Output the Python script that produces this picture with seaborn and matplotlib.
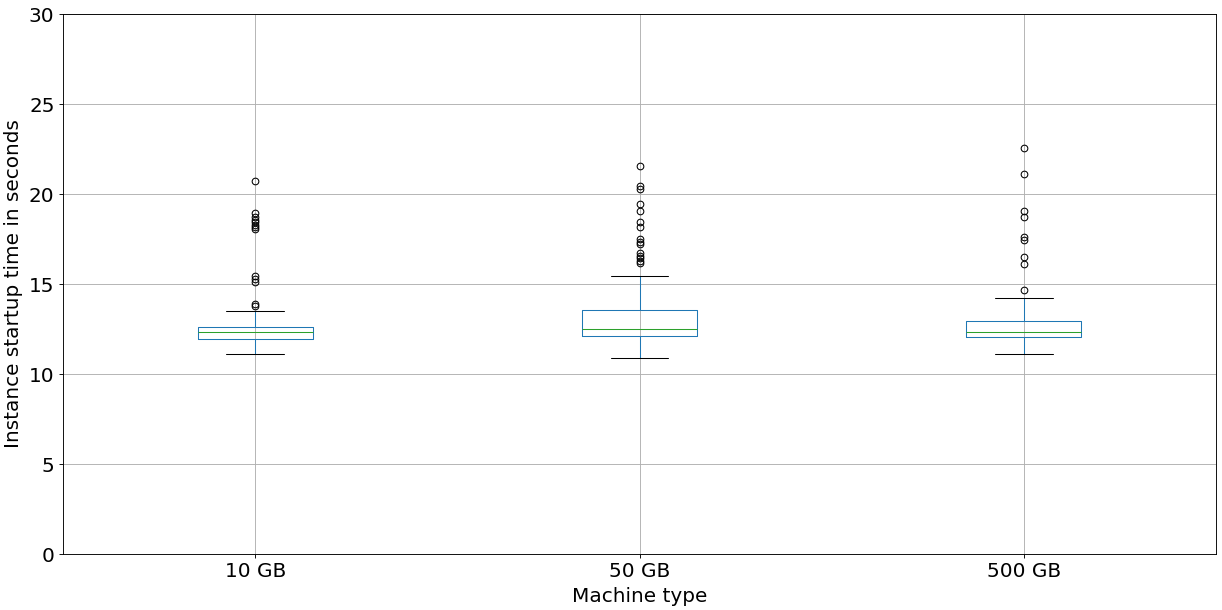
import matplotlib
matplotlib.use("Agg")
import matplotlib.pyplot as plt
import seaborn as sns
import pandas as pd

categories = ["10 GB", "50 GB", "500 GB"]

values_10gb = [
    11.11, 11.35, 11.48, 11.56, 11.62, 11.68, 11.72, 11.76, 11.80, 11.83, 11.86, 11.88, 11.90, 11.92,
    11.93,
    11.97, 12.00, 12.03, 12.06, 12.09, 12.12, 12.15, 12.18, 12.21, 12.24, 12.27, 12.29, 12.31,
    12.32,
    12.34, 12.36, 12.38, 12.40, 12.42, 12.44, 12.46, 12.49, 12.52, 12.55, 12.58, 12.60, 12.62,
    12.63,
    13.48,
    13.80, 13.90, 15.10, 15.30, 15.45, 18.05, 18.15, 18.30, 18.45, 18.55, 18.70, 18.95, 20.70,
]

values_50gb = [
    10.87,
    11.30, 11.50, 11.62, 11.70, 11.77, 11.83, 11.88, 11.92, 11.95, 11.98, 12.01, 12.03, 12.05, 12.07, 12.08,
    12.09,
    12.12, 12.15, 12.18, 12.20, 12.23, 12.25, 12.28, 12.30, 12.33, 12.35, 12.38, 12.40, 12.42, 12.44, 12.46,
    12.48,
    12.52, 12.57, 12.62, 12.68, 12.74, 12.80, 12.86, 12.93, 13.00, 13.08, 13.16, 13.25, 13.34, 13.42, 13.50,
    13.54,
    15.43,
    16.18, 16.30, 16.43, 16.56, 16.70, 17.20, 17.33, 17.48, 18.15, 18.46, 19.06, 19.43, 20.28, 20.46, 21.56,
]

values_500gb = [
    11.09,
    11.40, 11.60, 11.72, 11.80, 11.87, 11.93, 11.98, 12.02, 12.04,
    12.06,
    12.09, 12.12, 12.15, 12.18, 12.21, 12.24, 12.26, 12.28, 12.30,
    12.31,
    12.36, 12.42, 12.48, 12.55, 12.62, 12.70, 12.78, 12.85, 12.92,
    12.96,
    14.20,
    14.65, 16.11, 16.50, 17.44, 17.59, 18.70, 19.04, 21.11, 22.54,
]

y_ticks = [0, 5, 10, 15, 20, 25, 30]

df = pd.DataFrame({
    "Machine type": [categories[0]] * len(values_10gb)
    + [categories[1]] * len(values_50gb)
    + [categories[2]] * len(values_500gb),
    "time": values_10gb + values_50gb + values_500gb,
})

sns.set_style("white")
plt.rcParams["font.family"] = ["DejaVu Sans"]
plt.rcParams["text.color"] = "black"
plt.rcParams["axes.labelcolor"] = "black"
plt.rcParams["xtick.color"] = "black"
plt.rcParams["ytick.color"] = "black"

fig = plt.figure(figsize=(12.22, 6.10), dpi=100)
ax = fig.add_axes([63 / 1222, 56 / 610, (1216 - 63) / 1222, (554 - 14) / 610])

lw = 0.75
sns.boxplot(
    data=df, x="Machine type", y="time", order=categories, ax=ax,
    color="#1f77b4", fill=False, width=0.3, linewidth=lw, whis=1.5,
    boxprops={"color": "#1f77b4", "linewidth": lw},
    whiskerprops={"color": "#1f77b4", "linewidth": lw},
    capprops={"color": "black", "linewidth": lw},
    medianprops={"color": "#2ca02c", "linewidth": lw},
    flierprops={"marker": "o", "markerfacecolor": "none", "markeredgecolor": "black",
                "markersize": 4.8, "markeredgewidth": lw},
)

ax.set_ylim(0, 30)
ax.set_xlim(-0.5, 2.5)
ax.set_yticks(y_ticks)
ax.grid(True, color="#b0b0b0", linewidth=0.65)
ax.set_axisbelow(True)
for s in ax.spines.values():
    s.set_color("black")
    s.set_linewidth(0.65)
ax.tick_params(axis="both", labelsize=14.4, length=2.6, width=0.65, color="black",
               labelcolor="black", left=True, bottom=True)
ax.set_xlabel("Machine type", fontsize=14.4, color="black")
ax.set_ylabel("Instance startup time in seconds", fontsize=14.4, color="black")

fig.savefig("out.png", dpi=100, facecolor="white")
